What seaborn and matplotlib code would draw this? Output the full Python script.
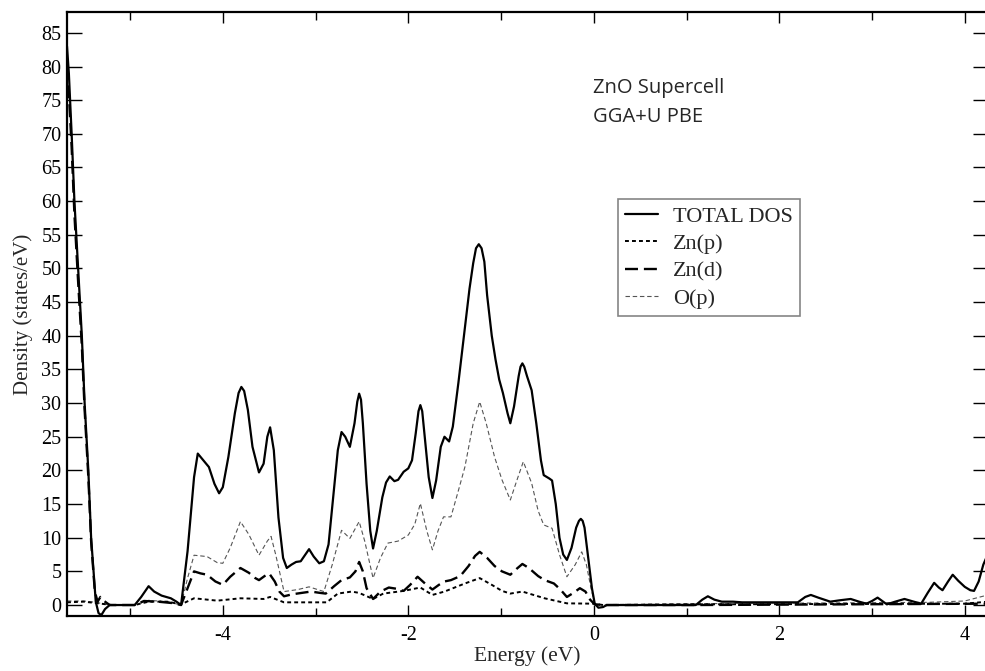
import matplotlib
matplotlib.use("Agg")
import matplotlib.pyplot as plt
import seaborn as sns
import pandas as pd
from matplotlib.lines import Line2D
from matplotlib.ticker import MultipleLocator

# ---------------- data ----------------
total_x = [-5.68, -5.66, -5.63, -5.60, -5.56, -5.52, -5.49, -5.45, -5.42, -5.37, -5.34, -5.31, -5.27, -5.22,
           -4.95, -4.88, -4.80, -4.74, -4.66, -4.56, -4.50, -4.45, -4.38, -4.31, -4.27, -4.21, -4.15, -4.09,
           -4.04, -4.00, -3.94, -3.87, -3.83, -3.80, -3.77, -3.73, -3.68, -3.61, -3.56, -3.52, -3.49, -3.45,
           -3.40, -3.35, -3.31, -3.26, -3.21, -3.16, -3.11, -3.07, -3.02, -2.96, -2.91, -2.86, -2.81, -2.76,
           -2.72, -2.68, -2.63, -2.58, -2.55, -2.53, -2.51, -2.49, -2.45, -2.41, -2.38, -2.34, -2.28, -2.24,
           -2.20, -2.15, -2.11, -2.05, -2.00, -1.96, -1.92, -1.89, -1.87, -1.85, -1.83, -1.78, -1.74, -1.70,
           -1.65, -1.61, -1.56, -1.52, -1.46, -1.40, -1.34, -1.30, -1.27, -1.24, -1.21, -1.18, -1.15, -1.10,
           -1.06, -1.02, -0.98, -0.93, -0.90, -0.86, -0.81, -0.79, -0.77, -0.75, -0.72, -0.67, -0.62, -0.57,
           -0.54, -0.48, -0.45, -0.41, -0.37, -0.33, -0.29, -0.24, -0.19, -0.16, -0.14, -0.12, -0.10, -0.06,
           -0.02, 0.01, 0.05, 0.10, 0.14, 1.10, 1.17, 1.23, 1.30, 1.38, 1.50, 1.60, 2.20, 2.28, 2.34, 2.42,
           2.55, 2.65, 2.77, 2.86, 2.94, 3.00, 3.06, 3.11, 3.16, 3.25, 3.35, 3.45, 3.53, 3.60, 3.67, 3.72,
           3.76, 3.82, 3.87, 3.93, 4.00, 4.06, 4.10, 4.15, 4.20, 4.25]
total_y = [83, 79, 70, 60, 50, 40, 30, 20, 10, 0.5, -1.2, -1.5, -0.6, 0,
           0, 1.2, 2.8, 2.0, 1.4, 1.0, 0.5, 0, 8, 19, 22.5, 21.5, 20.5, 18,
           16.6, 17.5, 22, 28.5, 31.5, 32.4, 31.8, 29, 23.5, 19.7, 21, 25, 26.4, 23,
           13, 7, 5.5, 6.0, 6.4, 6.5, 7.5, 8.3, 7.2, 6.2, 6.5, 9, 16, 23,
           25.7, 25, 23.5, 27, 30.2, 31.4, 30.5, 27, 18, 11, 8.4, 11, 16, 18.2,
           19.1, 18.4, 18.6, 19.8, 20.3, 21.5, 25.5, 28.8, 29.7, 28.8, 26, 19, 15.9, 18.5,
           23.5, 25.0, 24.3, 26.5, 33, 40, 47, 50.8, 53, 53.6, 53, 51, 46, 40,
           36.5, 33.5, 31.5, 28.5, 27.0, 29.5, 34, 35.4, 35.9, 35.4, 34, 31.9, 27, 21.5,
           19.3, 18.8, 18.5, 15, 10, 7.5, 6.7, 8.5, 11.5, 12.5, 12.8, 12.5, 11.5, 7,
           2.5, 0.2, -0.4, -0.3, 0, 0, 0.8, 1.3, 0.8, 0.5, 0.5, 0.4, 0.4, 1.2, 1.5, 1.1,
           0.5, 0.7, 0.9, 0.5, 0.2, 0.6, 1.1, 0.6, 0.1, 0.5, 0.9, 0.5, 0.2, 1.8, 3.3, 2.6,
           2.2, 3.5, 4.5, 3.6, 2.7, 2.2, 2.1, 3.5, 6.0, 7.6]

znp_x = [-5.68, -5.50, -5.37, -5.20, -4.95, -4.80, -4.60, -4.45, -4.31, -4.06, -3.81, -3.56, -3.49, -3.34,
         -2.88, -2.76, -2.61, -2.53, -2.38, -2.27, -2.05, -1.87, -1.74, -1.61, -1.39, -1.23, -1.10, -0.99,
         -0.90, -0.77, -0.53, -0.29, 0.00, 0.10, 1.10, 4.00, 4.25]
znp_y = [0.4, 0.5, 0.3, 0, 0, 0.5, 0.5, 0.1, 1.0, 0.65, 1.0, 0.9, 1.2, 0.4,
         0.4, 1.7, 2.0, 1.8, 0.9, 1.7, 2.1, 2.6, 1.5, 2.0, 3.2, 4.0, 3.0, 2.1,
         1.7, 2.0, 1.0, 0.25, 0.2, 0, 0.1, 0.2, 0.5]

znd_x = [-5.68, -5.66, -5.63, -5.60, -5.56, -5.52, -5.49, -5.45, -5.42, -5.38, -5.35, -5.32, -5.28, -5.22,
         -4.95, -4.85, -4.70, -4.55, -4.45, -4.38, -4.31, -4.24, -4.17, -4.08, -4.00, -3.92, -3.81, -3.72,
         -3.65, -3.61, -3.55, -3.50, -3.44, -3.39, -3.34, -3.25, -3.15, -3.05, -2.95, -2.89, -2.80, -2.72,
         -2.63, -2.57, -2.53, -2.49, -2.45, -2.38, -2.30, -2.21, -2.12, -2.05, -1.98, -1.90, -1.82, -1.74,
         -1.67, -1.61, -1.54, -1.44, -1.35, -1.28, -1.23, -1.15, -1.07, -0.99, -0.90, -0.83, -0.77, -0.70,
         -0.60, -0.53, -0.43, -0.36, -0.29, -0.22, -0.15, -0.09, -0.04, 0.01, 0.10, 1.10, 4.25]
znd_y = [80, 76, 68, 58, 48, 38.5, 29, 19, 9.5, 2, 0.5, 1.2, 0.6, 0,
         0, 0.6, 0.5, 0.3, 0, 2.5, 5.0, 4.7, 4.5, 3.5, 3.0, 4.2, 5.5, 4.8,
         4.0, 3.7, 4.3, 4.7, 3.5, 2.0, 1.3, 1.6, 1.8, 2.0, 1.8, 1.7, 2.8, 3.7,
         4.1, 5.0, 6.4, 5.0, 2.5, 0.9, 2.0, 2.6, 2.4, 2.1, 3.0, 4.2, 3.2, 2.3,
         3.0, 3.5, 3.7, 4.3, 5.8, 7.3, 7.9, 7.0, 5.8, 5.0, 4.5, 5.4, 6.1, 5.5,
         4.3, 3.7, 3.2, 2.3, 1.2, 1.8, 2.5, 2.0, 0.8, 0.1, 0, 0, 0.2]

op_x = [-5.68, -5.50, -5.37, -5.22, -4.95, -4.80, -4.60, -4.45, -4.38, -4.31, -4.17, -4.06, -4.00, -3.92,
        -3.81, -3.72, -3.61, -3.52, -3.48, -3.43, -3.34, -3.19, -3.07, -2.91, -2.82, -2.72, -2.63, -2.53,
        -2.47, -2.38, -2.30, -2.22, -2.11, -2.00, -1.93, -1.87, -1.80, -1.74, -1.68, -1.62, -1.54, -1.46,
        -1.39, -1.30, -1.23, -1.16, -1.07, -0.99, -0.90, -0.83, -0.76, -0.67, -0.60, -0.54, -0.45, -0.37,
        -0.29, -0.20, -0.13, -0.08, -0.03, 0.01, 0.10, 1.10, 3.60, 4.00, 4.25]
op_y = [0.6, 0.6, 0.4, 0, 0, 0.7, 0.5, 0, 4, 7.4, 7.2, 6.3, 6.2, 8.5,
        12.4, 10.5, 7.4, 9.5, 10.2, 7.5, 2.0, 2.3, 2.7, 2.0, 6, 11.1, 9.9, 12.4,
        9.5, 4.0, 7, 9.2, 9.5, 10.4, 12, 15.1, 11, 8.2, 11, 13.1, 13.1, 17,
        20.5, 27, 30.2, 27, 22.0, 18.6, 15.6, 18.5, 21.3, 18.1, 14, 11.9, 11.4, 7.5,
        4.2, 6, 7.9, 6, 2.5, 0.2, 0, 0.2, 0.4, 0.6, 1.5]

series_names = ["TOTAL DOS", "Zn(p)", "Zn(d)", "O(p)"]
x_ticks = [-4, -2, 0, 2, 4]
y_ticks = list(range(0, 90, 5))

# ---------------- styling ----------------
sns.set_theme(style="ticks")
plt.rcParams["font.family"] = ["Liberation Serif", "DejaVu Serif"]
plt.rcParams["axes.unicode_minus"] = False

fig = plt.figure(figsize=(9.85, 6.71), dpi=100)
ax = fig.add_axes([67 / 985, 1 - 616 / 671, 1.003 - 67 / 985, (616 - 12) / 671])

styles = {
    "TOTAL DOS": dict(color="black", lw=1.6, ls="-"),
    "Zn(p)": dict(color="black", lw=1.4, ls=(0, (2.0, 1.6))),
    "Zn(d)": dict(color="black", lw=1.7, ls=(0, (5.5, 2.5))),
    "O(p)": dict(color="#555555", lw=0.8, ls=(0, (4.0, 2.5))),
}
data = {
    "TOTAL DOS": (total_x, total_y),
    "Zn(p)": (znp_x, znp_y),
    "Zn(d)": (znd_x, znd_y),
    "O(p)": (op_x, op_y),
}

for name in ["O(p)", "Zn(p)", "Zn(d)", "TOTAL DOS"]:
    xs, ys = data[name]
    df = pd.DataFrame({"Energy": xs, "DOS": ys})
    st = styles[name]
    sns.lineplot(data=df, x="Energy", y="DOS", ax=ax, estimator=None, sort=False,
                 color=st["color"], linewidth=st["lw"], linestyle=st["ls"])

ax.set_xlim(-5.68, 4.25)
ax.set_ylim(-1.63, 88.1)
ax.set_xticks(x_ticks)
ax.xaxis.set_minor_locator(MultipleLocator(1))
ax.set_yticks(y_ticks)

ax.tick_params(axis="both", which="both", direction="in", top=True, right=True,
               colors="black", labelsize=14.5)
ax.tick_params(axis="x", which="major", length=8, width=1, pad=7)
ax.tick_params(axis="x", which="minor", length=6, width=1)
ax.tick_params(axis="y", which="major", length=11, width=1, pad=4)

for sp in ax.spines.values():
    sp.set_linewidth(1.6)
    sp.set_color("black")

ax.set_xlabel("Energy (eV)", fontsize=15.5, labelpad=1)
ax.set_ylabel("Density (states/eV)", fontsize=15, labelpad=6)

ax.text(0.571, 0.866, "ZnO Supercell", transform=ax.transAxes,
        fontsize=14.5, family=["Open Sans", "DejaVu Sans"], va="baseline", ha="left")
ax.text(0.571, 0.818, "GGA+U PBE", transform=ax.transAxes,
        fontsize=14.5, family=["Open Sans", "DejaVu Sans"], va="baseline", ha="left")

handles = [Line2D([], [], color=styles[n]["color"], lw=styles[n]["lw"], ls=styles[n]["ls"])
           for n in series_names]
leg = ax.legend(handles, series_names, loc="upper left", bbox_to_anchor=(0.598, 0.690),
                fontsize=16, frameon=True, fancybox=False, handlelength=1.5,
                handletextpad=0.68, labelspacing=0.3, borderpad=0.32, borderaxespad=0)
leg.get_frame().set_edgecolor("#666666")
leg.get_frame().set_linewidth(1.2)

fig.savefig("out.png", dpi=100)
